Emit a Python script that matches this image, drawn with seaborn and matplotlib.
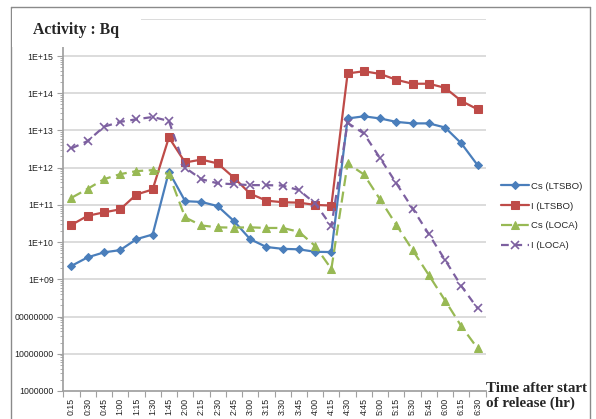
import numpy as np
import pandas as pd
import matplotlib
matplotlib.use("Agg")
import matplotlib.pyplot as plt
import seaborn as sns
from matplotlib.lines import Line2D
from matplotlib.patches import Rectangle
from matplotlib.ticker import FixedLocator, LogLocator, NullFormatter

# ── dados ──
tempos = ["0:15", "0:30", "0:45", "1:00", "1:15", "1:30", "1:45", "2:00", "2:15",
          "2:30", "2:45", "3:00", "3:15", "3:30", "3:45", "4:00", "4:15", "4:30",
          "4:45", "5:00", "5:15", "5:30", "5:45", "6:00", "6:15", "6:30"]

cs_ltsbo = [2.3e9, 3.9e9, 5.3e9, 6.1e9, 1.2e10, 1.6e10, 7.8e11, 1.26e11, 1.2e11,
            9.3e10, 3.7e10, 1.2e10, 7.4e9, 6.6e9, 6.4e9, 5.5e9, 5.4e9, 2.1e13,
            2.4e13, 2.1e13, 1.7e13, 1.55e13, 1.55e13, 1.2e13, 4.5e12, 1.17e12]

i_ltsbo = [2.9e10, 5.1e10, 6.3e10, 7.6e10, 1.9e11, 2.6e11, 6.5e12, 1.38e12, 1.65e12,
           1.3e12, 5.4e11, 2.0e11, 1.3e11, 1.18e11, 1.15e11, 1.0e11, 9.6e10, 3.4e14,
           3.9e14, 3.3e14, 2.3e14, 1.8e14, 1.8e14, 1.4e14, 6.2e13, 3.7e13]

cs_loca = [1.55e11, 2.7e11, 4.9e11, 6.7e11, 8.1e11, 8.6e11, 6.7e11, 4.6e10, 2.8e10,
           2.5e10, 2.45e10, 2.5e10, 2.4e10, 2.4e10, 1.9e10, 7.9e9, 1.9e9, 1.3e12,
           6.6e11, 1.4e11, 2.9e10, 6.1e9, 1.3e9, 2.7e8, 5.5e7, 1.4e7]

i_loca = [3.3e12, 5.2e12, 1.26e13, 1.7e13, 2.0e13, 2.3e13, 1.8e13, 1.0e12, 4.9e11,
          3.8e11, 3.6e11, 3.4e11, 3.4e11, 3.3e11, 2.5e11, 1.1e11, 2.7e10, 1.6e13,
          8.3e12, 1.8e12, 3.8e11, 8.0e10, 1.64e10, 3.3e9, 6.6e8, 1.66e8]

series_nomes = ["Cs (LTSBO)", "I (LTSBO)", "Cs (LOCA)", "I (LOCA)"]

y_ticks = [1e6, 1e7, 1e8, 1e9, 1e10, 1e11, 1e12, 1e13, 1e14, 1e15]
y_tick_labels = ["1000000", "10000000", "00000000", "1E+09", "1E+10", "1E+11",
                 "1E+12", "1E+13", "1E+14", "1E+15"]

# ── estilo ──
sns.set_theme(style="white")
plt.rcParams["font.family"] = ["Liberation Sans", "DejaVu Sans"]

cores = ["#4A7EBB", "#BE4B48", "#98B954", "#7D60A0"]
estilos = [
    dict(marker="D", markersize=4, linestyle="-"),
    dict(marker="s", markersize=5.8, linestyle="-"),
    dict(marker="^", markersize=6.2, linestyle=(0, (5, 2.5))),
    dict(marker="x", markersize=5.8, markeredgewidth=1.2, linestyle=(0, (3.5, 2.5))),
]

W, H = 596, 419
fig = plt.figure(figsize=(W / 100, H / 100), dpi=100)
fig.patch.set_facecolor("white")

left, right, bottom, top = 63.3, 485.7, 391.0, 18.8
ax = fig.add_axes([left / W, 1 - bottom / H, (right - left) / W, (bottom - top) / H])

x = np.arange(len(tempos))
valores = [cs_ltsbo, i_ltsbo, cs_loca, i_loca]

for nome, vals, cor, est in zip(series_nomes, valores, cores, estilos):
    df = pd.DataFrame({"x": x, "y": vals})
    sns.lineplot(data=df, x="x", y="y", ax=ax, color=cor, linewidth=1.6,
                 markeredgecolor=cor, label=nome, **est)

ax.set_yscale("log")
ax.set_ylim(1e6, 1e16)
ax.set_xlim(-0.5, len(tempos) - 0.5)

# gridlines por década
for d in range(7, 17):
    ax.axhline(10.0 ** d, color="#D9D9D9", linewidth=1.3, zorder=0)

ax.yaxis.set_major_locator(FixedLocator(y_ticks))
ax.set_yticklabels(y_tick_labels, fontsize=6.3, color="#222222")
ax.yaxis.set_minor_locator(LogLocator(base=10, subs=np.arange(2, 10), numticks=20))
ax.yaxis.set_minor_formatter(NullFormatter())
ax.tick_params(axis="y", which="both", direction="out", color="#A0A0A0",
               left=True, pad=3)
ax.tick_params(axis="y", which="major", length=4, width=0.8)
ax.tick_params(axis="y", which="minor", length=2.5, width=0.6)

ax.set_xticks(x)
ax.set_xticklabels(tempos, rotation=90, fontsize=6.3, color="#222222")
ax.set_xticks(np.arange(-0.5, len(tempos)), minor=True)
ax.tick_params(axis="x", which="major", length=0, pad=5)
ax.tick_params(axis="x", which="minor", direction="out", length=4, width=0.8,
               color="#A0A0A0", bottom=True)

for s in ["top", "right"]:
    ax.spines[s].set_visible(False)
ax.spines["left"].set_color("#A0A0A0")
ax.spines["bottom"].set_color("#A0A0A0")
ax.spines["left"].set_bounds(1e6, 1.7e15)

ax.set_xlabel("")
ax.set_ylabel("")

leg = ax.legend(loc="upper left", bbox_to_anchor=(497 / W, 1 - 178 / H),
                bbox_transform=fig.transFigure, frameon=False, fontsize=6.8,
                handlelength=3.0, handletextpad=0.15, labelspacing=1.15,
                borderaxespad=0)

# caixa branca do título (cobre a gridline superior)
fig.patches.append(Rectangle((12 / W, 1 - 47 / H), (141 - 12) / W, (47 - 9) / H,
                             transform=fig.transFigure, facecolor="white",
                             edgecolor="none", zorder=5))
fig.text(33 / W, 1 - 30 / H, "Activity : Bq", fontsize=11.3, fontweight="bold",
         family="Liberation Serif", va="center", ha="left", zorder=6)

fig.text(486 / W, 1 - 396 / H, "Time after start\nof release (hr)", fontsize=10.8,
         fontweight="bold", family="Liberation Serif", va="center", ha="left",
         linespacing=1.1, zorder=6)

# borda externa do gráfico
borda = "#8A8A8A"
fig.add_artist(Line2D([11 / W, 11 / W], [0, 1 - 7 / H], transform=fig.transFigure,
                      color=borda, linewidth=1.0))
fig.add_artist(Line2D([11 / W, 590 / W], [1 - 7 / H, 1 - 7 / H],
                      transform=fig.transFigure, color=borda, linewidth=1.0))
fig.add_artist(Line2D([590 / W, 590 / W], [0, 1 - 7 / H], transform=fig.transFigure,
                      color=borda, linewidth=1.0))

fig.savefig("out.png", dpi=100)
